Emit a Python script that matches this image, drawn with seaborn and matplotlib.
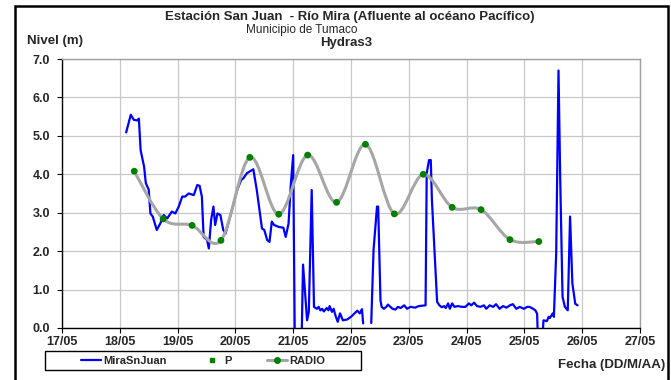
import numpy as np
import pandas as pd
import matplotlib
matplotlib.use("Agg")
import matplotlib.pyplot as plt
from matplotlib.path import Path
from matplotlib.patches import PathPatch, Rectangle
from matplotlib.lines import Line2D
import seaborn as sns

# Nivel MiraSnJuan (dia de mayo con fraccion, nivel en m); nan = hueco sin datos
dia_mira = [18.11, 18.19, 18.24, 18.30, 18.33, 18.36, 18.42, 18.45, 18.50, 18.53,
            18.57, 18.64, 18.70, 18.76, 18.82, 18.90, 18.96, 19.02, 19.08, 19.13,
            19.19, 19.28, 19.34, 19.38, 19.42, 19.45, 19.51, 19.54, 19.58, 19.62,
            19.65, 19.69, 19.74, 19.79, 19.83, 19.91, 19.97, 20.03, 20.10, 20.14,
            20.20, 20.31, 20.37, 20.46, 20.50, 20.55, 20.59, 20.63, 20.67, 20.75,
            20.83, 20.87, 20.92, 20.96, 21.00, 21.03, 21.14, 21.17, 21.24, 21.27,
            21.32, 21.36, 21.41, 21.44, 21.47, 21.50, 21.53, 21.58, 21.61, 21.63,
            21.67, 21.70, 21.73, 21.77, 21.81, 21.86, 21.93, 22.00, 22.06, 22.11,
            22.15, 22.19, 22.21, 22.28, 22.35, 22.39, 22.45, 22.47, 22.51, 22.53,
            22.57, 22.61, 22.64, 22.68, 22.72, 22.77, 22.81, 22.86, 22.92, 22.97,
            23.03, 23.11, 23.17, 23.29, 23.31, 23.35, 23.38, 23.40, 23.49, 23.53,
            23.57, 23.61, 23.64, 23.68, 23.71, 23.75, 23.79, 23.85, 23.92, 23.98,
            24.04, 24.08, 24.13, 24.18, 24.24, 24.30, 24.34, 24.40, 24.46, 24.51,
            24.57, 24.63, 24.69, 24.75, 24.80, 24.86, 24.92, 24.99, 25.05, 25.09,
            25.15, 25.19, 25.22, 25.24, 25.30, 25.33, 25.39, 25.42, 25.44, 25.49,
            25.51, 25.55, 25.59, 25.62, 25.66, 25.70, 25.75, 25.79, 25.83, 25.88,
            25.92]
nivel_mira = [5.09, 5.55, 5.42, 5.40, 5.45, 4.63, 4.20, 3.77, 3.60, 2.98,
              2.90, 2.55, 2.72, 2.94, 2.85, 3.03, 2.98, 3.16, 3.42, 3.42,
              3.50, 3.46, 3.72, 3.70, 3.42, 2.37, 2.29, 2.07, 2.81, 3.16,
              2.68, 2.98, 2.94, 2.55, 2.46, 2.90, 3.24, 3.59, 3.85, 3.90,
              4.03, 4.13, 3.59, 2.59, 2.55, 2.29, 2.24, 2.77, 2.68, 2.63,
              2.61, 2.37, 2.72, 3.77, 4.50, -0.80, -0.80, 1.65, 0.20, 0.42,
              3.59, 0.55, 0.50, 0.55, 0.46, 0.50, 0.43, 0.52, 0.46, 0.57,
              0.42, 0.50, 0.33, 0.16, 0.38, 0.20, 0.22, 0.29, 0.38, 0.45,
              0.38, 0.49, 0.12, np.nan, 0.13, 2.03, 3.16, 3.16, 0.72, 0.55,
              0.50, 0.55, 0.61, 0.55, 0.50, 0.48, 0.55, 0.52, 0.59, 0.50,
              0.55, 0.53, 0.57, 0.59, 4.03, 4.37, 4.37, 3.33, 0.68, 0.59,
              0.54, 0.57, 0.52, 0.64, 0.50, 0.64, 0.55, 0.57, 0.55, 0.55,
              0.64, 0.59, 0.66, 0.57, 0.55, 0.59, 0.50, 0.59, 0.55, 0.62,
              0.50, 0.57, 0.53, 0.59, 0.62, 0.50, 0.55, 0.50, 0.55, 0.55,
              0.50, 0.46, 0.37, -0.60, -0.60, 0.20, 0.18, 0.29, 0.26, 0.38,
              0.29, 1.94, 6.70, 3.85, 0.81, 0.55, 0.46, 2.90, 1.16, 0.63,
              0.59]

# Nivel RADIO
dia_radio = [18.25, 18.75, 19.25, 19.75, 20.25, 20.75, 21.25, 21.75,
             22.25, 22.75, 23.25, 23.75, 24.25, 24.75, 25.25]
nivel_radio = [4.08, 2.84, 2.67, 2.28, 4.44, 2.96, 4.50, 3.27,
               4.78, 2.97, 4.00, 3.14, 3.08, 2.30, 2.25]

dias_ticks = [17, 18, 19, 20, 21, 22, 23, 24, 25, 26, 27]
etiquetas_x = ["17/05", "18/05", "19/05", "20/05", "21/05", "22/05",
               "23/05", "24/05", "25/05", "26/05", "27/05"]
niveles_ticks = [0, 1, 2, 3, 4, 5, 6, 7]
etiquetas_y = ["0.0", "1.0", "2.0", "3.0", "4.0", "5.0", "6.0", "7.0"]

W, H = 671, 380

sns.set_theme(style="whitegrid")
plt.rcParams["font.family"] = ["Liberation Sans", "DejaVu Sans"]

fig = plt.figure(figsize=(W / 100, H / 100), dpi=100)
fig.patch.set_facecolor("white")
ax = fig.add_axes([62 / W, 1 - 328 / H, 578 / W, 269 / H])
ax.set_facecolor("white")

# serie MiraSnJuan, partida en tramos donde faltan datos
df = pd.DataFrame({"dia": dia_mira, "nivel": nivel_mira})
df["tramo"] = df["nivel"].isna().cumsum()
df = df.dropna()
sns.lineplot(data=df, x="dia", y="nivel", units="tramo", estimator=None,
             sort=False, color="#0000FF", lw=1.6, ax=ax, legend=False, zorder=3)

# serie RADIO con linea suavizada (curvas de Bezier como Excel)
pts = np.column_stack([dia_radio, nivel_radio])
verts = [pts[0]]
codes = [Path.MOVETO]
n = len(pts)
for i in range(n - 1):
    p0 = pts[max(i - 1, 0)]
    p1 = pts[i]
    p2 = pts[i + 1]
    p3 = pts[min(i + 2, n - 1)]
    verts += [p1 + (p2 - p0) / 6, p2 - (p3 - p1) / 6, p2]
    codes += [Path.CURVE4] * 3
ax.add_patch(PathPatch(Path(verts, codes), facecolor="none",
                       edgecolor="#A6A6A6", lw=2.2, zorder=4))
sns.scatterplot(x=dia_radio, y=nivel_radio, color="#008000", s=24,
                edgecolor="none", ax=ax, zorder=5, legend=False)

ax.set_xlim(17, 27)
ax.set_ylim(0, 7)
ax.set_xticks(dias_ticks)
ax.set_xticklabels(etiquetas_x)
ax.set_yticks(niveles_ticks)
ax.set_yticklabels(etiquetas_y)
ax.set_xlabel("")
ax.set_ylabel("")
ax.grid(True, color="#C8C8C8", lw=0.9)
for side in ["left", "bottom"]:
    ax.spines[side].set_color("black")
    ax.spines[side].set_linewidth(1.0)
for side in ["top", "right"]:
    ax.spines[side].set_color("#A0A0A0")
    ax.spines[side].set_linewidth(1.0)
ax.tick_params(axis="both", length=3.5, width=0.8, color="black",
               labelsize=9, bottom=True, left=True)
ax.tick_params(axis="x", pad=2)
ax.tick_params(axis="y", pad=5)
for lbl in ax.get_xticklabels() + ax.get_yticklabels():
    lbl.set_fontweight("bold")

# titulos
fig.text(350 / W, 1 - 17 / H, "Estación San Juan  - Río Mira (Afluente al océano Pacífico)",
         ha="center", va="center", fontsize=9.5, fontweight="bold")
fig.text(302 / W, 1 - 30 / H, "Municipio de Tumaco",
         ha="center", va="center", fontsize=8.5)
fig.text(346 / W, 1 - 43 / H, "Hydras3",
         ha="center", va="center", fontsize=9.5, fontweight="bold")
fig.text(27 / W, 1 - 41 / H, "Nivel (m)",
         ha="left", va="center", fontsize=9.5, fontweight="bold")
fig.text(665 / W, 1 - 365 / H, "Fecha (DD/M/AA)",
         ha="right", va="center", fontsize=9.5, fontweight="bold")

# leyenda
fig.patches.append(Rectangle((45 / W, 1 - 370 / H), 316 / W, 19 / H,
                             transform=fig.transFigure, facecolor="white",
                             edgecolor="black", lw=1.0, zorder=1))
handles = [
    Line2D([], [], color="#0000FF", lw=1.6),
    Line2D([], [], color="#008000", marker="s", markersize=2.5, lw=0),
    Line2D([], [], color="#A6A6A6", lw=2.2, marker="o", markersize=4,
           markerfacecolor="#008000", markeredgecolor="#008000"),
]
leg = fig.legend(handles, ["MiraSnJuan", "P", "RADIO"], loc="center",
                 bbox_to_anchor=(203 / W, 1 - 360.5 / H), ncol=3,
                 frameon=False, fontsize=8, handlelength=1.8,
                 handletextpad=0.2, columnspacing=3.2)
for t in leg.get_texts():
    t.set_fontweight("bold")

# marco exterior
fig.patches.append(Rectangle((15 / W, -0.05), 653 / W, 1.05 - 5.5 / H,
                             transform=fig.transFigure, facecolor="none",
                             edgecolor="black", lw=1.8, zorder=10,
                             clip_on=False))

fig.savefig("out.png", dpi=100)
